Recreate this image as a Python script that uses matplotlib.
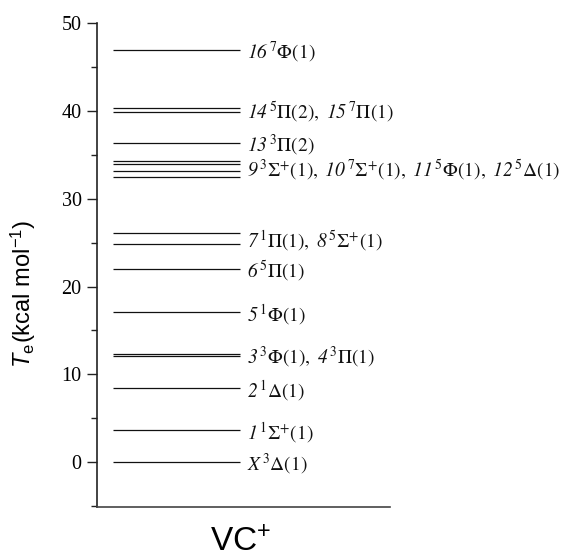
import numpy as np
import matplotlib.pyplot as plt

plt.rcParams['mathtext.fontset'] = 'custom'
plt.rcParams['mathtext.rm'] = 'STIXGeneral'
plt.rcParams['mathtext.it'] = 'STIXGeneral:italic'
# bf slot used for italic digits (the 'it' slot forces digits upright)
plt.rcParams['mathtext.bf'] = 'STIXGeneral:italic'
plt.rcParams['mathtext.sf'] = 'Liberation Sans'
plt.rcParams['mathtext.cal'] = 'Liberation Sans:italic'

# electronic states of VC+ and their Te (kcal/mol)
state_no = ['X', '1', '2', '3', '4', '5', '6', '7', '8', '9', '10', '11', '12', '13', '14', '15', '16']
state_sym = [r'^{3}\Delta(1)', r'^{1}\Sigma^{+}(1)', r'^{1}\Delta(1)', r'^{3}\Phi(1)', r'^{3}\Pi(1)',
             r'^{1}\Phi(1)', r'^{5}\Pi(1)', r'^{1}\Pi(1)', r'^{5}\Sigma^{+}(1)', r'^{3}\Sigma^{+}(1)',
             r'^{7}\Sigma^{+}(1)', r'^{5}\Phi(1)', r'^{5}\Delta(1)', r'^{3}\Pi(2)', r'^{5}\Pi(2)',
             r'^{7}\Pi(1)', r'^{7}\Phi(1)']
Te = [0.0, 3.7, 8.4, 12.1, 12.3, 17.1, 22.0, 24.8, 26.1, 32.5, 33.2, 33.9, 34.3, 36.3, 39.9, 40.3, 46.9]
# states that share one label
groups = [[0], [1], [2], [3, 4], [5], [6], [7, 8], [9, 10, 11, 12], [13], [14, 15], [16]]

yticks = [0, 10, 20, 30, 40, 50]

fig = plt.figure(figsize=(5.65, 5.60), dpi=100)
ax = fig.add_axes([97/565, 1 - 507/560, 293/565, 484/560])

x0, x1 = 0.055, 0.488
for e in Te:
    ax.plot([x0, x1], [e, e], color='#111111', lw=0.9, solid_capstyle='butt')

for g in groups:
    parts = []
    for i in g:
        parts.append(r'\mathbf{' + state_no[i] + r'}\,' + state_sym[i])
    txt = '$' + ',\\ '.join(parts) + '$'
    ymid = np.mean([Te[i] for i in g])
    ax.text(0.512, ymid - 0.3, txt, fontsize=14, va='center', ha='left', color='#111111')

ax.set_xlim(0, 1)
ax.set_ylim(-5.1, 50)
ax.set_yticks(yticks)
ax.set_yticklabels([str(t) for t in yticks], fontfamily='Liberation Serif', fontsize=14.5)
ax.set_yticks(np.arange(-5, 50, 10), minor=True)
ax.tick_params(axis='y', which='major', direction='out', length=7, width=1, pad=4, color='#222222')
ax.tick_params(axis='y', which='minor', direction='out', length=4, width=1, color='#222222')
ax.set_xticks([])
for s in ['top', 'right']:
    ax.spines[s].set_visible(False)
ax.spines['left'].set_linewidth(1.2)
ax.spines['bottom'].set_linewidth(1.2)
ax.spines['left'].set_color('#222222')
ax.spines['bottom'].set_color('#444444')

ax.set_ylabel(r'$\mathcal{T}_{\mathsf{e}}$(kcal mol$^{\mathsf{-1}}$)', fontfamily='Liberation Sans', fontsize=17)
ax.yaxis.set_label_coords(-0.2, 0.44)
ax.set_xlabel(r'VC$^{\mathsf{+}}$', fontfamily='Liberation Sans', fontsize=24)
ax.xaxis.set_label_coords(0.49, -0.04)

plt.savefig('out.png', dpi=100)
